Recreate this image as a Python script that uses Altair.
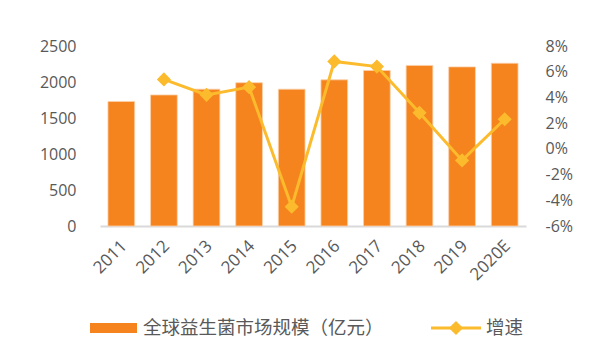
import altair as alt
import pandas as pd

years = ["2011", "2012", "2013", "2014", "2015", "2016", "2017", "2018", "2019", "2020E"]
market = [1730, 1820, 1900, 1990, 1900, 2030, 2160, 2230, 2210, 2260]
growth = [None, 5.4, 4.2, 4.8, -4.5, 6.8, 6.4, 2.8, -0.9, 2.3]

bar_label = "全球益生菌市场规模（亿元）"
line_label = "增速"

BAR = "#F5841F"
LINE = "#FBBB2D"
GRAY = "#595959"
NUM_FONT = "Open Sans"
CJK_FONT = "Noto Sans CJK SC"

df = pd.DataFrame({"year": years, "market": market, "growth": growth})

xenc = alt.X(
    "year:N",
    sort=years,
    title=None,
    scale=alt.Scale(paddingInner=0.373, paddingOuter=0.187),
    axis=alt.Axis(
        labelAngle=315, labelAlign="right", labelBaseline="middle",
        labelFont=NUM_FONT, labelFontSize=17, labelColor=GRAY,
        ticks=False, tickSize=0, labelPadding=17, labelOffset=3,
        domainColor="#D9D9D9", domainWidth=2, grid=False,
    ),
)

bars = alt.Chart(df).mark_bar(color=BAR, stroke="#FAD0AA", strokeWidth=0.8).encode(
    x=xenc,
    y=alt.Y(
        "market:Q", title=None,
        scale=alt.Scale(domain=[0, 2500], nice=False),
        axis=alt.Axis(
            values=[0, 500, 1000, 1500, 2000, 2500], format="d",
            grid=False, domain=False,
            ticks=False, tickSize=0, labelPadding=24,
            labelFont=NUM_FONT, labelFontSize=16, labelColor=GRAY,
        ),
    ),
)

line = alt.Chart(df).mark_line(
    color=LINE, strokeWidth=3,
    point=alt.OverlayMarkDef(shape="diamond", size=200, filled=True, color=LINE),
).encode(
    x=alt.X("year:N", sort=years),
    y=alt.Y(
        "growth:Q", title=None,
        scale=alt.Scale(domain=[-6, 8], nice=False),
        axis=alt.Axis(
            orient="right", values=[-6, -4, -2, 0, 2, 4, 6, 8],
            labelExpr="datum.value + '%'", grid=False, domain=False,
            ticks=False, tickSize=0, labelPadding=19,
            labelFont=NUM_FONT, labelFontSize=16, labelColor=GRAY,
        ),
    ),
)

one = alt.Data(values=[{"a": 1}])

leg_rect = alt.Chart(one).mark_rect(color=BAR).encode(
    x=alt.value(-10), x2=alt.value(37), y=alt.value(277), y2=alt.value(287)
)
leg_text1 = alt.Chart(one).mark_text(
    text=bar_label, align="left", baseline="middle",
    font=CJK_FONT, fontSize=18.5, color=GRAY,
).encode(x=alt.value(43), y=alt.value(282))
leg_rule = alt.Chart(one).mark_rule(color=LINE, strokeWidth=3).encode(
    x=alt.value(331), x2=alt.value(381), y=alt.value(282)
)
leg_pt = alt.Chart(one).mark_point(
    shape="diamond", size=200, filled=True, color=LINE, opacity=1
).encode(x=alt.value(356), y=alt.value(282))
leg_text2 = alt.Chart(one).mark_text(
    text=line_label, align="left", baseline="middle",
    font=CJK_FONT, fontSize=18.5, color=GRAY,
).encode(x=alt.value(386), y=alt.value(282))

chart = alt.layer(
    bars, line, leg_rect, leg_text1, leg_rule, leg_pt, leg_text2
).resolve_scale(y="independent").properties(
    width=426, height=180,
    autosize=alt.AutoSizeParams(type="none"),
    padding={"left": 92, "top": 38, "right": 77, "bottom": 114},
).configure_view(stroke=None)

chart.save("out.html", embed_options={"renderer": "svg", "actions": False})
